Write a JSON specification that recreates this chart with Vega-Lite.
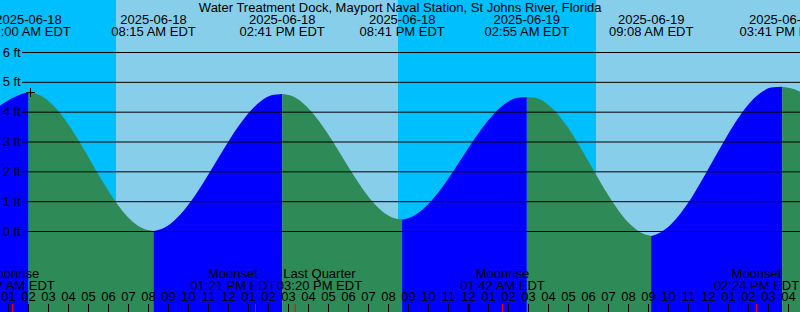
{
  "$schema": "https://vega.github.io/schema/vega-lite/v6.json",
  "width": 800,
  "height": 312,
  "padding": 0,
  "autosize": {"type": "none"},
  "background": "#ffffff",
  "config": {"view": {"stroke": null}},
  "resolve": {"scale": {"color": "independent"}},
  "datasets": {
    "sky": [
      {"t": "2025-06-18T00:34:30", "t2": "2025-06-18T06:22:30", "p": "night"},
      {"t": "2025-06-18T06:22:30", "t2": "2025-06-18T20:27:30", "p": "day"},
      {"t": "2025-06-18T20:27:30", "t2": "2025-06-19T06:22:30", "p": "night"},
      {"t": "2025-06-19T06:22:30", "t2": "2025-06-19T16:34:30", "p": "day"}
    ],
    "tide": [
      {"t": "2025-06-18T00:30:00", "ft": 4.18, "seg": 0, "dir": "rising"},
      {"t": "2025-06-18T00:45:00", "ft": 4.30, "seg": 0, "dir": "rising"},
      {"t": "2025-06-18T01:00:00", "ft": 4.40, "seg": 0, "dir": "rising"},
      {"t": "2025-06-18T01:15:00", "ft": 4.49, "seg": 0, "dir": "rising"},
      {"t": "2025-06-18T01:30:00", "ft": 4.57, "seg": 0, "dir": "rising"},
      {"t": "2025-06-18T01:45:00", "ft": 4.63, "seg": 0, "dir": "rising"},
      {"t": "2025-06-18T02:00:00", "ft": 4.66, "seg": 0, "dir": "rising"},

      {"t": "2025-06-18T02:00:00", "ft": 4.66, "seg": 1, "dir": "falling"},
      {"t": "2025-06-18T02:31:15", "ft": 4.581, "seg": 1, "dir": "falling"},
      {"t": "2025-06-18T03:02:30", "ft": 4.349, "seg": 1, "dir": "falling"},
      {"t": "2025-06-18T03:33:45", "ft": 3.98, "seg": 1, "dir": "falling"},
      {"t": "2025-06-18T04:05:00", "ft": 3.50, "seg": 1, "dir": "falling"},
      {"t": "2025-06-18T04:36:15", "ft": 2.94, "seg": 1, "dir": "falling"},
      {"t": "2025-06-18T05:07:30", "ft": 2.34, "seg": 1, "dir": "falling"},
      {"t": "2025-06-18T05:38:45", "ft": 1.74, "seg": 1, "dir": "falling"},
      {"t": "2025-06-18T06:10:00", "ft": 1.18, "seg": 1, "dir": "falling"},
      {"t": "2025-06-18T06:41:15", "ft": 0.70, "seg": 1, "dir": "falling"},
      {"t": "2025-06-18T07:12:30", "ft": 0.331, "seg": 1, "dir": "falling"},
      {"t": "2025-06-18T07:43:45", "ft": 0.099, "seg": 1, "dir": "falling"},
      {"t": "2025-06-18T08:15:00", "ft": 0.02, "seg": 1, "dir": "falling"},

      {"t": "2025-06-18T08:15:00", "ft": 0.02, "seg": 2, "dir": "rising"},
      {"t": "2025-06-18T08:47:10", "ft": 0.13, "seg": 2, "dir": "rising"},
      {"t": "2025-06-18T09:19:20", "ft": 0.389, "seg": 2, "dir": "rising"},
      {"t": "2025-06-18T09:51:30", "ft": 0.78, "seg": 2, "dir": "rising"},
      {"t": "2025-06-18T10:23:40", "ft": 1.275, "seg": 2, "dir": "rising"},
      {"t": "2025-06-18T10:55:50", "ft": 1.841, "seg": 2, "dir": "rising"},
      {"t": "2025-06-18T11:28:00", "ft": 2.439, "seg": 2, "dir": "rising"},
      {"t": "2025-06-18T12:00:10", "ft": 3.029, "seg": 2, "dir": "rising"},
      {"t": "2025-06-18T12:32:20", "ft": 3.57, "seg": 2, "dir": "rising"},
      {"t": "2025-06-18T13:04:30", "ft": 4.025, "seg": 2, "dir": "rising"},
      {"t": "2025-06-18T13:36:40", "ft": 4.364, "seg": 2, "dir": "rising"},
      {"t": "2025-06-18T14:08:50", "ft": 4.564, "seg": 2, "dir": "rising"},
      {"t": "2025-06-18T14:41:00", "ft": 4.61, "seg": 2, "dir": "rising"},

      {"t": "2025-06-18T14:41:00", "ft": 4.61, "seg": 3, "dir": "falling"},
      {"t": "2025-06-18T15:11:00", "ft": 4.538, "seg": 3, "dir": "falling"},
      {"t": "2025-06-18T15:41:00", "ft": 4.328, "seg": 3, "dir": "falling"},
      {"t": "2025-06-18T16:11:00", "ft": 3.993, "seg": 3, "dir": "falling"},
      {"t": "2025-06-18T16:41:00", "ft": 3.557, "seg": 3, "dir": "falling"},
      {"t": "2025-06-18T17:11:00", "ft": 3.05, "seg": 3, "dir": "falling"},
      {"t": "2025-06-18T17:41:00", "ft": 2.505, "seg": 3, "dir": "falling"},
      {"t": "2025-06-18T18:11:00", "ft": 1.96, "seg": 3, "dir": "falling"},
      {"t": "2025-06-18T18:41:00", "ft": 1.452, "seg": 3, "dir": "falling"},
      {"t": "2025-06-18T19:11:00", "ft": 1.017, "seg": 3, "dir": "falling"},
      {"t": "2025-06-18T19:41:00", "ft": 0.682, "seg": 3, "dir": "falling"},
      {"t": "2025-06-18T20:11:00", "ft": 0.472, "seg": 3, "dir": "falling"},
      {"t": "2025-06-18T20:41:00", "ft": 0.40, "seg": 3, "dir": "falling"},

      {"t": "2025-06-18T20:41:00", "ft": 0.40, "seg": 4, "dir": "rising"},
      {"t": "2025-06-18T21:12:10", "ft": 0.507, "seg": 4, "dir": "rising"},
      {"t": "2025-06-18T21:43:20", "ft": 0.747, "seg": 4, "dir": "rising"},
      {"t": "2025-06-18T22:14:30", "ft": 1.104, "seg": 4, "dir": "rising"},
      {"t": "2025-06-18T22:45:40", "ft": 1.552, "seg": 4, "dir": "rising"},
      {"t": "2025-06-18T23:16:50", "ft": 2.062, "seg": 4, "dir": "rising"},
      {"t": "2025-06-18T23:48:00", "ft": 2.599, "seg": 4, "dir": "rising"},
      {"t": "2025-06-19T00:19:10", "ft": 3.126, "seg": 4, "dir": "rising"},
      {"t": "2025-06-19T00:50:20", "ft": 3.607, "seg": 4, "dir": "rising"},
      {"t": "2025-06-19T01:21:30", "ft": 4.01, "seg": 4, "dir": "rising"},
      {"t": "2025-06-19T01:52:40", "ft": 4.307, "seg": 4, "dir": "rising"},
      {"t": "2025-06-19T02:23:50", "ft": 4.477, "seg": 4, "dir": "rising"},
      {"t": "2025-06-19T02:55:00", "ft": 4.51, "seg": 4, "dir": "rising"},

      {"t": "2025-06-19T02:55:00", "ft": 4.51, "seg": 5, "dir": "falling"},
      {"t": "2025-06-19T03:26:05", "ft": 4.467, "seg": 5, "dir": "falling"},
      {"t": "2025-06-19T03:57:10", "ft": 4.268, "seg": 5, "dir": "falling"},
      {"t": "2025-06-19T04:28:15", "ft": 3.926, "seg": 5, "dir": "falling"},
      {"t": "2025-06-19T04:59:20", "ft": 3.466, "seg": 5, "dir": "falling"},
      {"t": "2025-06-19T05:30:25", "ft": 2.918, "seg": 5, "dir": "falling"},
      {"t": "2025-06-19T06:01:30", "ft": 2.32, "seg": 5, "dir": "falling"},
      {"t": "2025-06-19T06:32:35", "ft": 1.712, "seg": 5, "dir": "falling"},
      {"t": "2025-06-19T07:03:40", "ft": 1.136, "seg": 5, "dir": "falling"},
      {"t": "2025-06-19T07:34:45", "ft": 0.631, "seg": 5, "dir": "falling"},
      {"t": "2025-06-19T08:05:50", "ft": 0.232, "seg": 5, "dir": "falling"},
      {"t": "2025-06-19T08:36:55", "ft": -0.034, "seg": 5, "dir": "falling"},
      {"t": "2025-06-19T09:08:00", "ft": -0.15, "seg": 5, "dir": "falling"},

      {"t": "2025-06-19T09:08:00", "ft": -0.15, "seg": 6, "dir": "rising"},
      {"t": "2025-06-19T09:40:45", "ft": 0.0, "seg": 6, "dir": "rising"},
      {"t": "2025-06-19T10:13:30", "ft": 0.31, "seg": 6, "dir": "rising"},
      {"t": "2025-06-19T10:46:15", "ft": 0.759, "seg": 6, "dir": "rising"},
      {"t": "2025-06-19T11:19:00", "ft": 1.317, "seg": 6, "dir": "rising"},
      {"t": "2025-06-19T11:51:45", "ft": 1.944, "seg": 6, "dir": "rising"},
      {"t": "2025-06-19T12:24:30", "ft": 2.60, "seg": 6, "dir": "rising"},
      {"t": "2025-06-19T12:57:15", "ft": 3.239, "seg": 6, "dir": "rising"},
      {"t": "2025-06-19T13:30:00", "ft": 3.817, "seg": 6, "dir": "rising"},
      {"t": "2025-06-19T14:02:45", "ft": 4.295, "seg": 6, "dir": "rising"},
      {"t": "2025-06-19T14:35:30", "ft": 4.64, "seg": 6, "dir": "rising"},
      {"t": "2025-06-19T15:08:15", "ft": 4.83, "seg": 6, "dir": "rising"},
      {"t": "2025-06-19T15:41:00", "ft": 4.85, "seg": 6, "dir": "rising"},

      {"t": "2025-06-19T15:41:00", "ft": 4.85, "seg": 7, "dir": "falling"},
      {"t": "2025-06-19T16:00:00", "ft": 4.82, "seg": 7, "dir": "falling"},
      {"t": "2025-06-19T16:20:00", "ft": 4.76, "seg": 7, "dir": "falling"},
      {"t": "2025-06-19T16:35:00", "ft": 4.68, "seg": 7, "dir": "falling"},
      {"t": "2025-06-19T16:45:00", "ft": 4.62, "seg": 7, "dir": "falling"}
    ],
    "grid": [
      {"ft": 0, "label": "0 ft"},
      {"ft": 1, "label": "1 ft"},
      {"ft": 2, "label": "2 ft"},
      {"ft": 3, "label": "3 ft"},
      {"ft": 4, "label": "4 ft"},
      {"ft": 5, "label": "5 ft"},
      {"ft": 6, "label": "6 ft"}
    ],
    "caption": [
      {"title": "Water Treatment Dock, Mayport Naval Station, St Johns River, Florida"}
    ],
    "events": [
      {"t": "2025-06-18T02:00:00", "d": "2025-06-18", "tm": "02:00 AM EDT"},
      {"t": "2025-06-18T08:15:00", "d": "2025-06-18", "tm": "08:15 AM EDT"},
      {"t": "2025-06-18T14:41:00", "d": "2025-06-18", "tm": "02:41 PM EDT"},
      {"t": "2025-06-18T20:41:00", "d": "2025-06-18", "tm": "08:41 PM EDT"},
      {"t": "2025-06-19T02:55:00", "d": "2025-06-19", "tm": "02:55 AM EDT"},
      {"t": "2025-06-19T09:08:00", "d": "2025-06-19", "tm": "09:08 AM EDT"},
      {"t": "2025-06-19T15:41:00", "d": "2025-06-19", "tm": "03:41 PM EDT"}
    ],
    "moon": [
      {"id": 1, "t": "2025-06-18T01:12:00", "ev": "Moonrise", "tm": "01:12 AM EDT"},
      {"id": 2, "t": "2025-06-18T13:21:00", "ev": "Moonset", "tm": "01:21 PM EDT"},
      {"id": 3, "t": "2025-06-18T15:20:00", "ev": "Last Quarter", "tm": "03:20 PM EDT"},
      {"id": 4, "t": "2025-06-19T01:42:00", "ev": "Moonrise", "tm": "01:42 AM EDT"},
      {"id": 5, "t": "2025-06-19T14:24:00", "ev": "Moonset", "tm": "02:24 PM EDT"}
    ],
    "hours": [
      {"t": "2025-06-18T01:00:00", "h": "01"},
      {"t": "2025-06-18T02:00:00", "h": "02"},
      {"t": "2025-06-18T03:00:00", "h": "03"},
      {"t": "2025-06-18T04:00:00", "h": "04"},
      {"t": "2025-06-18T05:00:00", "h": "05"},
      {"t": "2025-06-18T06:00:00", "h": "06"},
      {"t": "2025-06-18T07:00:00", "h": "07"},
      {"t": "2025-06-18T08:00:00", "h": "08"},
      {"t": "2025-06-18T09:00:00", "h": "09"},
      {"t": "2025-06-18T10:00:00", "h": "10"},
      {"t": "2025-06-18T11:00:00", "h": "11"},
      {"t": "2025-06-18T12:00:00", "h": "12"},
      {"t": "2025-06-18T13:00:00", "h": "01"},
      {"t": "2025-06-18T14:00:00", "h": "02"},
      {"t": "2025-06-18T15:00:00", "h": "03"},
      {"t": "2025-06-18T16:00:00", "h": "04"},
      {"t": "2025-06-18T17:00:00", "h": "05"},
      {"t": "2025-06-18T18:00:00", "h": "06"},
      {"t": "2025-06-18T19:00:00", "h": "07"},
      {"t": "2025-06-18T20:00:00", "h": "08"},
      {"t": "2025-06-18T21:00:00", "h": "09"},
      {"t": "2025-06-18T22:00:00", "h": "10"},
      {"t": "2025-06-18T23:00:00", "h": "11"},
      {"t": "2025-06-19T00:00:00", "h": "12"},
      {"t": "2025-06-19T01:00:00", "h": "01"},
      {"t": "2025-06-19T02:00:00", "h": "02"},
      {"t": "2025-06-19T03:00:00", "h": "03"},
      {"t": "2025-06-19T04:00:00", "h": "04"},
      {"t": "2025-06-19T05:00:00", "h": "05"},
      {"t": "2025-06-19T06:00:00", "h": "06"},
      {"t": "2025-06-19T07:00:00", "h": "07"},
      {"t": "2025-06-19T08:00:00", "h": "08"},
      {"t": "2025-06-19T09:00:00", "h": "09"},
      {"t": "2025-06-19T10:00:00", "h": "10"},
      {"t": "2025-06-19T11:00:00", "h": "11"},
      {"t": "2025-06-19T12:00:00", "h": "12"},
      {"t": "2025-06-19T13:00:00", "h": "01"},
      {"t": "2025-06-19T14:00:00", "h": "02"},
      {"t": "2025-06-19T15:00:00", "h": "03"},
      {"t": "2025-06-19T16:00:00", "h": "04"}
    ],
    "midnight": [
      {"t": "2025-06-19T00:00:00"}
    ],
    "marker": [
      {"t": "2025-06-18T02:06:00", "ft": 4.659}
    ]
  },
  "layer": [
    {
      "data": {"name": "sky"},
      "mark": {"type": "rect"},
      "encoding": {
        "x": {
          "field": "t", "type": "temporal", "axis": null,
          "scale": {"domain": [
            {"year": 2025, "month": 6, "date": 18, "hours": 0, "minutes": 34, "seconds": 30},
            {"year": 2025, "month": 6, "date": 19, "hours": 16, "minutes": 34, "seconds": 30}
          ]}
        },
        "x2": {"field": "t2"},
        "color": {"field": "p", "type": "nominal", "scale": {"domain": ["night", "day"], "range": ["#00bfff", "#87ceeb"]}, "legend": null}
      }
    },
    {
      "data": {"name": "tide"},
      "mark": {"type": "area", "interpolate": "monotone", "clip": true},
      "encoding": {
        "x": {"field": "t", "type": "temporal", "axis": null},
        "y": {"field": "ft", "type": "quantitative", "stack": null, "scale": {"domain": [-2.698, 7.76], "nice": false, "zero": false}, "axis": null},
        "y2": {"datum": -2.698},
        "color": {"field": "dir", "type": "nominal", "scale": {"domain": ["rising", "falling"], "range": ["#0000ff", "#2e8b57"]}, "legend": null},
        "detail": {"field": "seg", "type": "nominal"}
      }
    },
    {
      "data": {"name": "grid"},
      "mark": {"type": "rule", "color": "#000000", "strokeWidth": 1},
      "encoding": {
        "y": {"field": "ft", "type": "quantitative", "axis": null},
        "x": {"datum": {"year": 2025, "month": 6, "date": 18, "hours": 1, "minutes": 40, "seconds": 30}, "type": "temporal", "axis": null},
        "x2": {"datum": {"year": 2025, "month": 6, "date": 19, "hours": 16, "minutes": 34, "seconds": 30}}
      }
    },
    {
      "data": {"name": "grid"},
      "mark": {"type": "text", "align": "left", "baseline": "middle", "font": "Liberation Sans", "fontSize": 13, "fill": "#000000"},
      "encoding": {
        "y": {"field": "ft", "type": "quantitative", "axis": null},
        "x": {"datum": {"year": 2025, "month": 6, "date": 18, "hours": 0, "minutes": 42, "seconds": 30}, "type": "temporal", "axis": null},
        "text": {"field": "label"}
      }
    },
    {
      "data": {"name": "caption"},
      "mark": {"type": "text", "align": "center", "baseline": "alphabetic", "font": "Liberation Sans", "fontSize": 13, "fill": "#000000"},
      "encoding": {
        "x": {"datum": {"year": 2025, "month": 6, "date": 18, "hours": 20, "minutes": 35}, "type": "temporal", "axis": null},
        "y": {"datum": 7.369, "type": "quantitative", "axis": null},
        "text": {"field": "title"}
      }
    },
    {
      "data": {"name": "events"},
      "mark": {"type": "text", "align": "center", "baseline": "alphabetic", "font": "Liberation Sans", "fontSize": 13, "fill": "#000000"},
      "encoding": {
        "x": {"field": "t", "type": "temporal", "axis": null},
        "y": {"datum": 6.955, "type": "quantitative", "axis": null},
        "text": {"field": "d"}
      }
    },
    {
      "data": {"name": "events"},
      "mark": {"type": "text", "align": "center", "baseline": "alphabetic", "font": "Liberation Sans", "fontSize": 13, "fill": "#000000"},
      "encoding": {
        "x": {"field": "t", "type": "temporal", "axis": null},
        "y": {"datum": 6.553, "type": "quantitative", "axis": null},
        "text": {"field": "tm"}
      }
    },
    {
      "data": {"name": "moon"},
      "transform": [{"filter": "datum.id != 2 && datum.id != 3"}],
      "mark": {"type": "text", "align": "center", "baseline": "alphabetic", "font": "Liberation Sans", "fontSize": 13, "fill": "#000000"},
      "encoding": {
        "x": {"field": "t", "type": "temporal", "axis": null},
        "y": {"datum": -1.542, "type": "quantitative", "axis": null},
        "text": {"field": "ev"}
      }
    },
    {
      "data": {"name": "moon"},
      "transform": [{"filter": "datum.id != 2 && datum.id != 3"}],
      "mark": {"type": "text", "align": "center", "baseline": "alphabetic", "font": "Liberation Sans", "fontSize": 13, "fill": "#000000"},
      "encoding": {
        "x": {"field": "t", "type": "temporal", "axis": null},
        "y": {"datum": -1.944, "type": "quantitative", "axis": null},
        "text": {"field": "tm"}
      }
    },
    {
      "data": {"name": "moon"},
      "transform": [{"filter": "datum.id == 2"}],
      "mark": {"type": "text", "align": "center", "baseline": "alphabetic", "dx": -22.5, "font": "Liberation Sans", "fontSize": 13, "fill": "#000000"},
      "encoding": {
        "x": {"field": "t", "type": "temporal", "axis": null},
        "y": {"datum": -1.542, "type": "quantitative", "axis": null},
        "text": {"field": "ev"}
      }
    },
    {
      "data": {"name": "moon"},
      "transform": [{"filter": "datum.id == 2"}],
      "mark": {"type": "text", "align": "center", "baseline": "alphabetic", "dx": -22.5, "font": "Liberation Sans", "fontSize": 13, "fill": "#000000"},
      "encoding": {
        "x": {"field": "t", "type": "temporal", "axis": null},
        "y": {"datum": -1.944, "type": "quantitative", "axis": null},
        "text": {"field": "tm"}
      }
    },
    {
      "data": {"name": "moon"},
      "transform": [{"filter": "datum.id == 3"}],
      "mark": {"type": "text", "align": "center", "baseline": "alphabetic", "dx": 24.3, "font": "Liberation Sans", "fontSize": 13, "fill": "#000000"},
      "encoding": {
        "x": {"field": "t", "type": "temporal", "axis": null},
        "y": {"datum": -1.542, "type": "quantitative", "axis": null},
        "text": {"field": "ev"}
      }
    },
    {
      "data": {"name": "moon"},
      "transform": [{"filter": "datum.id == 3"}],
      "mark": {"type": "text", "align": "center", "baseline": "alphabetic", "dx": 24.3, "font": "Liberation Sans", "fontSize": 13, "fill": "#000000"},
      "encoding": {
        "x": {"field": "t", "type": "temporal", "axis": null},
        "y": {"datum": -1.944, "type": "quantitative", "axis": null},
        "text": {"field": "tm"}
      }
    },
    {
      "data": {"name": "hours"},
      "mark": {"type": "text", "align": "center", "baseline": "alphabetic", "font": "Liberation Sans", "fontSize": 13, "fill": "#000000"},
      "encoding": {
        "x": {"field": "t", "type": "temporal", "axis": null},
        "y": {"datum": -2.346, "type": "quantitative", "axis": null},
        "text": {"field": "h"}
      }
    },
    {
      "data": {"name": "hours"},
      "mark": {"type": "rule", "color": "#000000", "strokeWidth": 1},
      "encoding": {
        "x": {"field": "t", "type": "temporal", "axis": null},
        "y": {"datum": -2.43, "type": "quantitative", "axis": null},
        "y2": {"datum": -2.698}
      }
    },
    {
      "data": {"name": "moon"},
      "mark": {"type": "rule", "color": "#ff0000", "strokeWidth": 1},
      "encoding": {
        "x": {"field": "t", "type": "temporal", "axis": null},
        "y": {"datum": -2.43, "type": "quantitative", "axis": null},
        "y2": {"datum": -2.698}
      }
    },
    {
      "data": {"name": "midnight"},
      "mark": {"type": "rule", "color": "#000000", "strokeWidth": 3},
      "encoding": {
        "x": {"field": "t", "type": "temporal", "axis": null},
        "y": {"datum": -2.43, "type": "quantitative", "axis": null},
        "y2": {"datum": -2.698}
      }
    },
    {
      "data": {"name": "marker"},
      "mark": {"type": "point", "shape": "M-1,0L1,0M0,-1L0,1", "size": 81, "filled": false, "stroke": "#000000", "strokeWidth": 1, "opacity": 1},
      "encoding": {
        "x": {"field": "t", "type": "temporal", "axis": null},
        "y": {"field": "ft", "type": "quantitative", "axis": null}
      }
    }
  ]
}
